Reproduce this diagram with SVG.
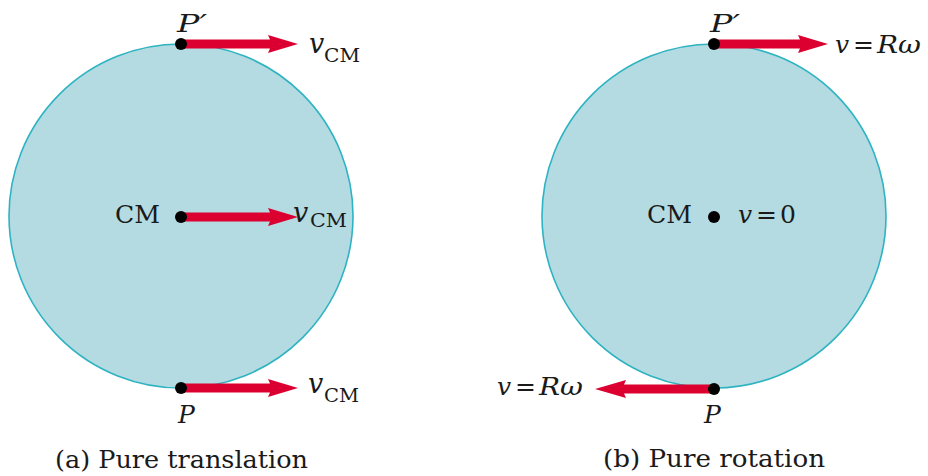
<svg xmlns="http://www.w3.org/2000/svg" width="928" height="476" viewBox="0 0 928 476">
<defs>
<style>
.disk{fill:#b3dbe1;stroke:#2fb3c2;stroke-width:1.6}
.dot{fill:#000}
.arr{fill:#dc0030}
.t{font-family:"DejaVu Serif","Liberation Serif",serif;fill:#1a1a1a}
.i{font-style:italic}
</style>
</defs>
<rect width="928" height="476" fill="#fff"/>
<g id="wheel-a">
<circle class="disk" cx="181" cy="216" r="172"/>
</g>
<g id="wheel-b">
<circle class="disk" cx="714" cy="216" r="172"/>
</g>
<g id="connectors">
<polygon class="arr" points="181,39.5 270,39.5 268,35 298,44 268,53 270,48.5 181,48.5"/>
<polygon class="arr" points="181,212.5 270,212.5 268,208 298,217 268,226 270,221.5 181,221.5"/>
<polygon class="arr" points="181,383.5 270,383.5 268,379 298,388 268,397 270,392.5 181,392.5"/>
<polygon class="arr" points="714,39.5 800,39.5 798,35 828,44 798,53 800,48.5 714,48.5"/>
<polygon class="arr" points="714,384.5 624,384.5 626,380 595,389 626,398 624,393.5 714,393.5"/>
</g>
<g id="a-top">
<circle class="dot" cx="181" cy="44" r="6"/>
<text class="t i" x="177" y="32" font-size="25" textLength="30" lengthAdjust="spacingAndGlyphs">P′</text>
<text class="t i" x="309" y="53" font-size="27">v</text>
<text class="t" x="324" y="62" font-size="19" textLength="36" lengthAdjust="spacingAndGlyphs">CM</text>
</g>
<g id="a-cm">
<circle class="dot" cx="181" cy="217" r="6"/>
<text class="t" x="115" y="223" font-size="25" textLength="45" lengthAdjust="spacingAndGlyphs">CM</text>
<text class="t i" x="293" y="222" font-size="27">v</text>
<text class="t" x="310" y="227" font-size="19" textLength="37" lengthAdjust="spacingAndGlyphs">CM</text>
</g>
<g id="a-bottom">
<circle class="dot" cx="181" cy="388" r="6"/>
<text class="t i" x="178" y="423" font-size="25">P</text>
<text class="t i" x="308" y="393" font-size="27">v</text>
<text class="t" x="324" y="402" font-size="19" textLength="35" lengthAdjust="spacingAndGlyphs">CM</text>
</g>
<g id="b-top">
<circle class="dot" cx="714" cy="44" r="6"/>
<text class="t i" x="710" y="32" font-size="25" textLength="30" lengthAdjust="spacingAndGlyphs">P′</text>
<text class="t i" x="835" y="53" font-size="25">v</text>
<text class="t" x="853" y="53" font-size="25">=</text>
<text class="t i" x="877" y="53" font-size="25" textLength="44" lengthAdjust="spacingAndGlyphs">Rω</text>
</g>
<g id="b-cm">
<circle class="dot" cx="714" cy="217" r="6"/>
<text class="t" x="647" y="223" font-size="25" textLength="45" lengthAdjust="spacingAndGlyphs">CM</text>
<text class="t i" x="738" y="223" font-size="25">v</text>
<text class="t" x="756" y="223" font-size="25">=</text>
<text class="t" x="780" y="223" font-size="25">0</text>
</g>
<g id="b-bottom">
<circle class="dot" cx="714" cy="389" r="6"/>
<text class="t i" x="704" y="423" font-size="25">P</text>
<text class="t i" x="497" y="395" font-size="25">v</text>
<text class="t" x="515" y="395" font-size="25">=</text>
<text class="t i" x="539" y="395" font-size="25" textLength="44" lengthAdjust="spacingAndGlyphs">Rω</text>
</g>
<g id="captions">
<text class="t" x="55" y="468" font-size="25" textLength="253" lengthAdjust="spacingAndGlyphs">(a) Pure translation</text>
<text class="t" x="603" y="467" font-size="25" textLength="222" lengthAdjust="spacingAndGlyphs">(b) Pure rotation</text>
</g>
</svg>
